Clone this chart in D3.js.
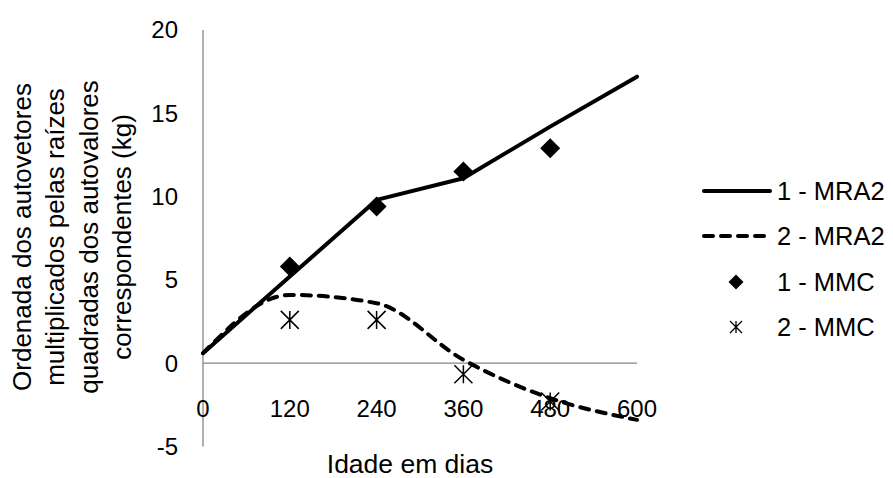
<!DOCTYPE html>
<html>
<head>
<meta charset="utf-8">
<script src="https://cdn.jsdelivr.net/npm/d3@7"></script>
<style>
    body { margin: 0; background: #fff; }
    text { font-family: "Liberation Sans", Arial, sans-serif; fill: #000; }
</style>
</head>
<body>
<div id="chart"></div>
<script>
// Data
const days = [0, 120, 240, 360, 480, 600];
const mra2_1 = [0.6, 5.2, 9.8, 11.1, 14.2, 17.2];
const mra2_2 = [0.6, 4.1, 3.6, 0.2, -2.1, -3.4];
const mmcDays = [120, 240, 360, 480];
const mmc_1 = [5.8, 9.4, 11.5, 12.9];
const mmc_2 = [2.6, 2.6, -0.66, -2.3];
const xTicks = [0, 120, 240, 360, 480, 600];
const yTicks = [-5, 0, 5, 10, 15, 20];
const yTitle = [
    "Ordenada dos autovetores",
    "multiplicados pelas raízes",
    "quadradas dos autovalores",
    "correspondentes (kg)"
];
const legendNames = ["1 - MRA2", "2 - MRA2", "1 - MMC", "2 - MMC"];

function drawChart() {
    const W = 893, H = 478;
    // plot area
    const margin = {top: 30, right: 256, bottom: 31.5, left: 203},
        width = W - margin.left - margin.right,
        height = H - margin.top - margin.bottom;

    const svg = d3.select("#chart")
        .append("svg")
        .attr("width", W)
        .attr("height", H);

    const g = svg.append("g")
        .attr("transform", `translate(${margin.left}, ${margin.top})`);

    const x = d3.scaleLinear().domain([0, 600]).range([0, width]);
    const y = d3.scaleLinear().domain([-5, 20]).range([height, 0]);

    // axes lines (no tick marks)
    g.append("line")
        .attr("x1", 0).attr("x2", 0)
        .attr("y1", 0).attr("y2", height)
        .attr("stroke", "#868686").attr("stroke-width", 1.3);
    g.append("line")
        .attr("x1", 0).attr("x2", width)
        .attr("y1", y(0)).attr("y2", y(0))
        .attr("stroke", "#868686").attr("stroke-width", 1.3);

    // y tick labels
    g.selectAll(".ytick")
        .data(yTicks)
        .join("text")
        .attr("x", -25)
        .attr("y", d => y(d))
        .attr("dy", "0.35em")
        .attr("text-anchor", "end")
        .style("font-size", "24px")
        .text(d => d);

    // x tick labels, sitting under the zero line
    g.selectAll(".xtick")
        .data(xTicks)
        .join("text")
        .attr("x", d => x(d))
        .attr("y", y(0) + 45)
        .attr("dy", "0.35em")
        .attr("text-anchor", "middle")
        .style("font-size", "24px")
        .text(d => d);

    const line1 = d3.line()
        .x((d, i) => x(days[i]))
        .y(d => y(d));
    const line2 = d3.line()
        .curve(d3.curveMonotoneX)
        .x((d, i) => x(days[i]))
        .y(d => y(d));

    g.append("path")
        .datum(mra2_1)
        .attr("d", line1)
        .attr("fill", "none")
        .attr("stroke", "#000")
        .attr("stroke-width", 4)
        .attr("stroke-linejoin", "round")
        .attr("stroke-linecap", "round");

    g.append("path")
        .datum(mra2_2)
        .attr("d", line2)
        .attr("fill", "none")
        .attr("stroke", "#000")
        .attr("stroke-width", 4)
        .attr("stroke-dasharray", "9,8")
        .attr("stroke-linecap", "round");

    const diamond = r => `M0,${-r}L${r},0L0,${r}L${-r},0Z`;
    const star = r => `M${-r},${-r}L${r},${r}M${-r},${r}L${r},${-r}M0,${-r}L0,${r}`;

    g.selectAll(".mmc1")
        .data(mmc_1)
        .join("path")
        .attr("transform", (d, i) => `translate(${x(mmcDays[i])}, ${y(d)})`)
        .attr("d", diamond(10))
        .attr("fill", "#000");

    g.selectAll(".mmc2")
        .data(mmc_2)
        .join("path")
        .attr("transform", (d, i) => `translate(${x(mmcDays[i])}, ${y(d)})`)
        .attr("d", star(9))
        .attr("fill", "none")
        .attr("stroke", "#000")
        .attr("stroke-width", 1.5);

    // axis titles
    svg.append("text")
        .attr("x", 410)
        .attr("y", 464)
        .attr("dy", "0.35em")
        .attr("text-anchor", "middle")
        .style("font-size", "26.5px")
        .text("Idade em dias");

    const yt = svg.append("text")
        .attr("transform", "translate(22, 237) rotate(-90)")
        .attr("text-anchor", "middle")
        .style("font-size", "26px");
    yt.selectAll("tspan")
        .data(yTitle)
        .join("tspan")
        .attr("x", 0)
        .attr("y", (d, i) => i * 33.3)
        .attr("dy", "0.35em")
        .text(d => d);

    // legend
    const legY = [191, 236, 282, 327];
    const leg = svg.append("g");
    leg.selectAll("text")
        .data(legendNames)
        .join("text")
        .attr("x", 777)
        .attr("y", (d, i) => legY[i])
        .attr("dy", "0.35em")
        .style("font-size", "25.5px")
        .text(d => d);
    leg.append("line")
        .attr("x1", 704).attr("x2", 770)
        .attr("y1", legY[0]).attr("y2", legY[0])
        .attr("stroke", "#000").attr("stroke-width", 4)
        .attr("stroke-linecap", "round");
    leg.append("line")
        .attr("x1", 704).attr("x2", 770)
        .attr("y1", legY[1]).attr("y2", legY[1])
        .attr("stroke", "#000").attr("stroke-width", 4)
        .attr("stroke-dasharray", "9,8")
        .attr("stroke-linecap", "round");
    leg.append("path")
        .attr("transform", `translate(736, ${legY[2]})`)
        .attr("d", diamond(7.5))
        .attr("fill", "#000");
    leg.append("path")
        .attr("transform", `translate(736, ${legY[3]})`)
        .attr("d", star(6))
        .attr("fill", "none")
        .attr("stroke", "#000")
        .attr("stroke-width", 1.3);
}
drawChart();
</script>
</body>
</html>
